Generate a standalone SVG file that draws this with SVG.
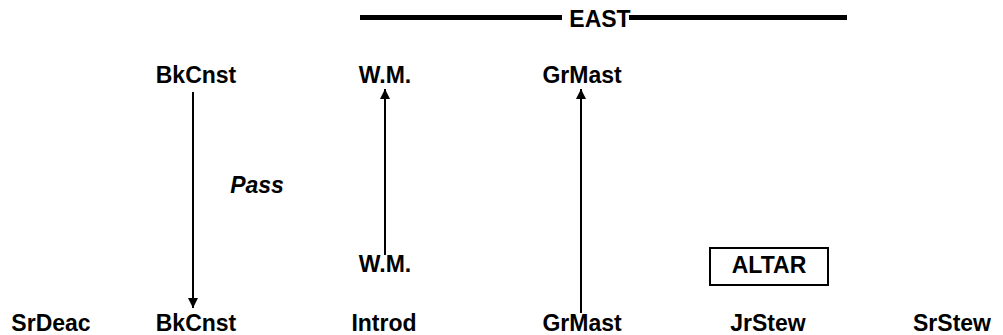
<svg xmlns="http://www.w3.org/2000/svg" width="1003" height="335" viewBox="0 0 1003 335">
<style>
text{font-family:"Liberation Sans",Arial,sans-serif;font-weight:bold;font-size:23px;fill:#000;text-anchor:middle}
.it{font-style:italic}
.ln{stroke:#000;stroke-width:2;fill:none}
.bar{stroke:#000;stroke-width:5;fill:none}
</style>
<defs>
<marker id="ah" viewBox="0 0 10 10" refX="10" refY="5" markerWidth="5" markerHeight="5.5" orient="auto" markerUnits="strokeWidth"><path d="M0,0L10,5L0,10z" fill="#000"/></marker>
</defs>
<g id="east"><line class="bar" x1="360" y1="17.5" x2="562" y2="17.5"/><line class="bar" x1="629" y1="17.5" x2="847" y2="17.5"/><text x="600" y="27">EAST</text></g>
<g id="bkcnst-top"><text x="196" y="83">BkCnst</text></g>
<g id="wm-top"><text x="385" y="83">W.M.</text></g>
<g id="grmast-top"><text x="582" y="83">GrMast</text></g>
<g id="pass"><text class="it" x="257" y="193">Pass</text></g>
<g id="wm-bottom"><text x="385" y="272">W.M.</text></g>
<g id="altar"><rect x="710" y="248" width="118" height="37" fill="none" stroke="#000" stroke-width="2"/><text x="769" y="273">ALTAR</text></g>
<g id="srdeac"><text x="51" y="331">SrDeac</text></g>
<g id="bkcnst-bottom"><text x="196" y="331">BkCnst</text></g>
<g id="introd"><text x="384" y="331">Introd</text></g>
<g id="grmast-bottom"><text x="582" y="331">GrMast</text></g>
<g id="jrstew"><text x="768" y="331">JrStew</text></g>
<g id="srstew"><text x="952" y="331">SrStew</text></g>
<g id="connectors">
<line class="ln" x1="193" y1="92" x2="193" y2="308" marker-end="url(#ah)"/>
<line class="ln" x1="385" y1="255" x2="385" y2="89" marker-end="url(#ah)"/>
<line class="ln" x1="581" y1="313" x2="581" y2="89" marker-end="url(#ah)"/>
</g>
</svg>
